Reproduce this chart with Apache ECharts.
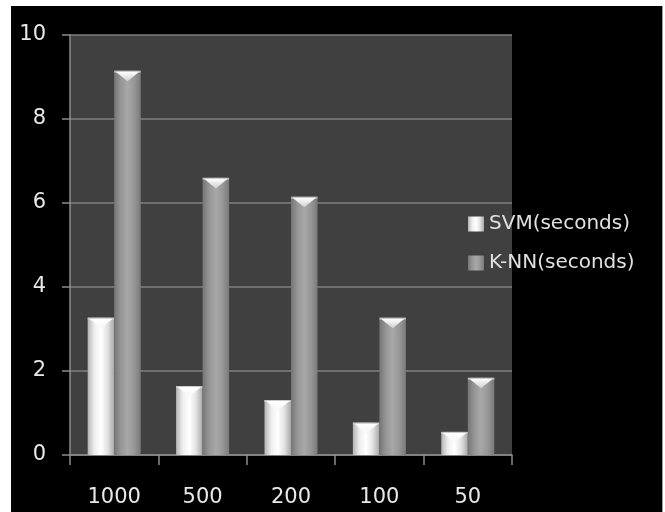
<!DOCTYPE html>
<html>
<head>
<meta charset="utf-8">
<script src="https://cdn.jsdelivr.net/npm/echarts@6/dist/echarts.min.js"></script>
<style>
  html, body { margin: 0; padding: 0; background: #ffffff; }
  #chart { width: 665px; height: 512px; }
</style>
</head>
<body>
<div id="chart"></div>
<script>
// Training-set sizes and run times
const categories = ['1000', '500', '200', '100', '50'];
const svmSeconds = [3.27, 1.64, 1.31, 0.77, 0.55];
const knnSeconds = [9.15, 6.60, 6.15, 3.27, 1.84];
const yTicks = { min: 0, max: 10, interval: 2 };
const seriesNames = ['SVM(seconds)', 'K-NN(seconds)'];

const FONT = 'DejaVu Sans';

function hGrad(stops) {
  return new echarts.graphic.LinearGradient(0, 0, 1, 0,
    stops.map((c, i) => ({ offset: i / (stops.length - 1), color: c })));
}

const palettes = [
  { body: ['#b4b4b4', '#eeeeee', '#ffffff', '#e2e2e2', '#a8a8a8'], cap: '#ffffff', capEnd: '#f6f6f6' },
  { body: ['#767676', '#969696', '#a8a8a8', '#979797', '#7a7a7a'], cap: '#ffffff', capEnd: '#cfcfcf' }
];

// Bevelled column: body rectangle with a pointed cap on top
function makeRenderer(slot) {
  return function (params, api) {
    const cat = api.value(0);
    const val = api.value(1);
    const top = api.coord([cat, val]);
    const base = api.coord([cat, 0]);
    const band = api.size([1, 0])[0];
    const w = band * 0.3;
    const x = top[0] - w + slot * w;
    const h = base[1] - top[1];
    const pal = palettes[slot];
    const capDepth = Math.min(w * 0.4, h * 0.6);
    return {
      type: 'group',
      children: [
        {
          type: 'rect',
          shape: { x: x, y: top[1], width: w, height: h },
          style: { fill: hGrad(pal.body) }
        },
        {
          type: 'rect',
          shape: { x: x, y: top[1], width: w, height: 2 },
          style: { fill: slot === 0 ? '#c8c8c8' : '#b8b8b8' }
        },
        {
          type: 'polygon',
          shape: { points: [[x + 1.5, top[1] + 1], [x + w - 1.5, top[1] + 1], [x + w / 2, top[1] + capDepth]] },
          style: {
            fill: new echarts.graphic.LinearGradient(0, 0, 0, 1, [
              { offset: 0, color: pal.cap },
              { offset: 1, color: pal.capEnd }
            ])
          }
        }
      ]
    };
  };
}

const chart = echarts.init(document.getElementById('chart'), null, { renderer: 'canvas' });

chart.setOption({
  backgroundColor: '#ffffff',
  animation: false,
  graphic: [
    { type: 'rect', z: -10, shape: { x: 11, y: 6, width: 651, height: 506 }, style: { fill: '#000000' } },
    { type: 'line', z: -10, shape: { x1: 662.5, y1: 6, x2: 662.5, y2: 512 }, style: { stroke: '#9a9a9a', lineWidth: 1 } }
  ],
  grid: {
    left: 70, top: 35, right: 153, bottom: 57,
    show: true, backgroundColor: '#404040', borderWidth: 0
  },
  legend: {
    orient: 'vertical',
    left: 463, top: 209,
    itemWidth: 16, itemHeight: 15, itemGap: 19,
    icon: 'rect',
    textStyle: { color: '#e0e0e0', fontFamily: FONT, fontSize: 20 },
    data: seriesNames
  },
  xAxis: {
    type: 'category',
    data: categories,
    boundaryGap: true,
    axisLine: { show: true, lineStyle: { color: '#8c8c8c', width: 1.5 } },
    axisTick: { show: true, length: 10, lineStyle: { color: '#8c8c8c', width: 1.5 } },
    axisLabel: { color: '#e8e8e8', fontFamily: FONT, fontSize: 21, margin: 32 },
    splitLine: { show: false }
  },
  yAxis: {
    type: 'value',
    min: yTicks.min, max: yTicks.max, interval: yTicks.interval,
    axisLine: { show: true, lineStyle: { color: '#8c8c8c', width: 1.5 } },
    axisTick: { show: true, length: 8, lineStyle: { color: '#8c8c8c', width: 1.5 } },
    axisLabel: { color: '#e8e8e8', fontFamily: FONT, fontSize: 21, margin: 24 },
    splitLine: { show: true, lineStyle: { color: '#7f7f7f', width: 1.5 } }
  },
  series: [
    {
      name: seriesNames[0],
      type: 'custom',
      renderItem: makeRenderer(0),
      itemStyle: { color: hGrad(palettes[0].body) },
      encode: { x: 0, y: 1 },
      data: svmSeconds.map((v, i) => [i, v])
    },
    {
      name: seriesNames[1],
      type: 'custom',
      renderItem: makeRenderer(1),
      itemStyle: { color: hGrad(palettes[1].body) },
      encode: { x: 0, y: 1 },
      data: knnSeconds.map((v, i) => [i, v])
    }
  ]
});
</script>
</body>
</html>
